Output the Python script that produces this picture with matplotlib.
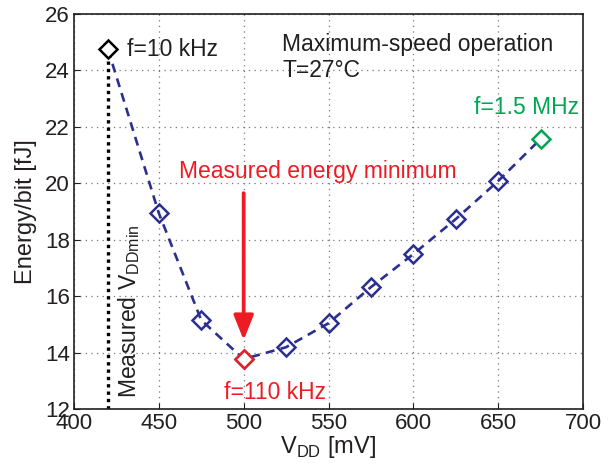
import numpy as np
import matplotlib.pyplot as plt

plt.rcParams['font.family'] = ['Liberation Sans', 'DejaVu Sans']
plt.rcParams['mathtext.fontset'] = 'custom'
plt.rcParams['mathtext.rm'] = 'Liberation Sans'

#------------------------------------------------------------------------------------
# Data
#------------------------------------------------------------------------------------
vdd = [420, 450, 475, 500, 525, 550, 575, 600, 625, 650, 675]
energy = [24.75, 18.94, 15.15, 13.77, 14.19, 15.04, 16.32, 17.49, 18.73, 20.08, 21.57]
vdd_min = 420
x_ticks = [400, 450, 500, 550, 600, 650, 700]
y_ticks = [12, 14, 16, 18, 20, 22, 24, 26]

blue = '#2B2F8F'
red = '#ED1C24'
green = '#00A651'
ink = '#231F20'
fs = 16.5

#------------------------------------------------------------------------------------
# Plot
#------------------------------------------------------------------------------------
fig = plt.figure(figsize=(6.15, 4.65), dpi=100)
ax = fig.add_axes([0.1203, 0.1204, 0.8277, 0.8496])

ax.plot(vdd, energy, '--', color=blue, linewidth=1.9, dashes=(3.4, 2.4), zorder=3)
ax.plot(vdd[1:-1], energy[1:-1], 'D', mfc='none', mec=blue, mew=1.8, ms=9.3, zorder=4)
ax.plot(vdd[0], energy[0], 'D', mfc='white', mec='black', mew=1.8, ms=9.3, zorder=4)
ax.plot(vdd[3], energy[3], 'D', mfc='white', mec=red, mew=1.8, ms=9.3, zorder=4)
ax.plot(vdd[-1], energy[-1], 'D', mfc='white', mec=green, mew=1.8, ms=9.3, zorder=4)

# measured VDDmin line
ax.plot([vdd_min, vdd_min], [12, energy[0]], color='black', linewidth=2.4,
        linestyle=(0, (1, 1.2)), zorder=2)
ax.text(425, 12.38, 'Measured V$_{\\mathrm{DDmin}}$', rotation=90,
        ha='left', va='bottom', fontsize=fs, color=ink)

# annotations
ax.text(431, energy[0], 'f=10 kHz', fontsize=fs, va='center', ha='left', color=ink)
ax.text(518.4, 12.6, 'f=110 kHz', fontsize=fs, va='center', ha='center', color=red)
ax.text(666.4, 22.67, 'f=1.5 MHz', fontsize=fs, va='center', ha='center', color=green)
ax.text(522.6, 24.9, 'Maximum-speed operation', fontsize=fs, va='center', ha='left', color=ink)
ax.text(522.6, 24.01, 'T=27°C', fontsize=fs, va='center', ha='left', color=ink)
ax.text(543.8, 20.4, 'Measured energy minimum', fontsize=fs, va='center', ha='center', color=red)
ax.annotate('', xy=(500, 14.44), xytext=(500, 19.65),
            arrowprops=dict(arrowstyle='-|>,head_width=0.6,head_length=1.5',
                            color=red, lw=2.7, shrinkA=0, shrinkB=0))

ax.set_xlim(400, 700)
ax.set_ylim(12, 26)
ax.set_xticks(x_ticks)
ax.set_yticks(y_ticks)
ax.tick_params(direction='in', labelsize=16, length=4, pad=3, colors=ink)
ax.grid(True, linestyle=(0, (1, 3.5)), color='#777777', linewidth=0.9)
for s in ax.spines.values():
    s.set_linewidth(1.2)
    s.set_color(ink)

ax.set_xlabel('V$_{\\mathrm{DD}}$ [mV]', fontsize=17, labelpad=0, color=ink)
ax.set_ylabel('Energy/bit [fJ]', fontsize=17, labelpad=6, color=ink)

fig.savefig('out.png', dpi=100)
